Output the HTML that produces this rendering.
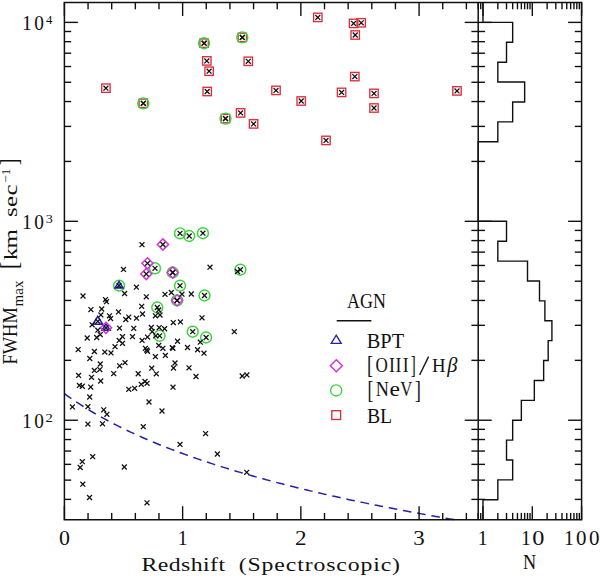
<!DOCTYPE html>
<html><head><meta charset="utf-8"><style>
html,body{margin:0;padding:0;background:#fff;}
svg{display:block;}
</style></head><body>
<svg width="600" height="576" viewBox="0 0 600 576">
<rect width="600" height="576" fill="#fff"/>
<rect x="101.70" y="84.00" width="8.40" height="8.40" stroke="#dc2d3c" stroke-width="1.35" fill="none"/>
<rect x="139.10" y="99.10" width="8.40" height="8.40" stroke="#dc2d3c" stroke-width="1.35" fill="none"/>
<rect x="199.90" y="39.00" width="8.40" height="8.40" stroke="#dc2d3c" stroke-width="1.35" fill="none"/>
<rect x="238.10" y="33.20" width="8.40" height="8.40" stroke="#dc2d3c" stroke-width="1.35" fill="none"/>
<rect x="202.60" y="56.70" width="8.40" height="8.40" stroke="#dc2d3c" stroke-width="1.35" fill="none"/>
<rect x="204.90" y="67.00" width="8.40" height="8.40" stroke="#dc2d3c" stroke-width="1.35" fill="none"/>
<rect x="244.10" y="57.10" width="8.40" height="8.40" stroke="#dc2d3c" stroke-width="1.35" fill="none"/>
<rect x="203.00" y="87.30" width="8.40" height="8.40" stroke="#dc2d3c" stroke-width="1.35" fill="none"/>
<rect x="221.30" y="114.40" width="8.40" height="8.40" stroke="#dc2d3c" stroke-width="1.35" fill="none"/>
<rect x="236.40" y="108.70" width="8.40" height="8.40" stroke="#dc2d3c" stroke-width="1.35" fill="none"/>
<rect x="249.40" y="119.70" width="8.40" height="8.40" stroke="#dc2d3c" stroke-width="1.35" fill="none"/>
<rect x="313.60" y="13.20" width="8.40" height="8.40" stroke="#dc2d3c" stroke-width="1.35" fill="none"/>
<rect x="349.40" y="19.20" width="8.40" height="8.40" stroke="#dc2d3c" stroke-width="1.35" fill="none"/>
<rect x="357.00" y="18.60" width="8.40" height="8.40" stroke="#dc2d3c" stroke-width="1.35" fill="none"/>
<rect x="351.00" y="30.80" width="8.40" height="8.40" stroke="#dc2d3c" stroke-width="1.35" fill="none"/>
<rect x="350.60" y="72.40" width="8.40" height="8.40" stroke="#dc2d3c" stroke-width="1.35" fill="none"/>
<rect x="271.80" y="86.20" width="8.40" height="8.40" stroke="#dc2d3c" stroke-width="1.35" fill="none"/>
<rect x="297.00" y="96.80" width="8.40" height="8.40" stroke="#dc2d3c" stroke-width="1.35" fill="none"/>
<rect x="337.40" y="88.20" width="8.40" height="8.40" stroke="#dc2d3c" stroke-width="1.35" fill="none"/>
<rect x="369.80" y="89.20" width="8.40" height="8.40" stroke="#dc2d3c" stroke-width="1.35" fill="none"/>
<rect x="369.80" y="103.80" width="8.40" height="8.40" stroke="#dc2d3c" stroke-width="1.35" fill="none"/>
<rect x="452.80" y="86.70" width="8.40" height="8.40" stroke="#dc2d3c" stroke-width="1.35" fill="none"/>
<rect x="321.80" y="136.20" width="8.40" height="8.40" stroke="#dc2d3c" stroke-width="1.35" fill="none"/>
<circle cx="143.30" cy="103.30" r="5.45" stroke="#3ad23a" stroke-width="1.45" fill="none"/>
<circle cx="204.10" cy="43.20" r="5.45" stroke="#3ad23a" stroke-width="1.45" fill="none"/>
<circle cx="242.30" cy="37.40" r="5.45" stroke="#3ad23a" stroke-width="1.45" fill="none"/>
<circle cx="225.50" cy="118.60" r="5.45" stroke="#3ad23a" stroke-width="1.45" fill="none"/>
<circle cx="180.00" cy="233.30" r="5.45" stroke="#3ad23a" stroke-width="1.45" fill="none"/>
<circle cx="189.20" cy="236.00" r="5.45" stroke="#3ad23a" stroke-width="1.45" fill="none"/>
<circle cx="202.90" cy="233.20" r="5.45" stroke="#3ad23a" stroke-width="1.45" fill="none"/>
<circle cx="155.00" cy="268.30" r="5.45" stroke="#3ad23a" stroke-width="1.45" fill="none"/>
<circle cx="172.70" cy="272.50" r="5.45" stroke="#3ad23a" stroke-width="1.45" fill="none"/>
<circle cx="180.00" cy="285.70" r="5.45" stroke="#3ad23a" stroke-width="1.45" fill="none"/>
<circle cx="240.40" cy="269.70" r="5.45" stroke="#3ad23a" stroke-width="1.45" fill="none"/>
<circle cx="204.50" cy="295.50" r="5.45" stroke="#3ad23a" stroke-width="1.45" fill="none"/>
<circle cx="119.05" cy="285.60" r="5.45" stroke="#3ad23a" stroke-width="1.45" fill="none"/>
<circle cx="177.10" cy="300.40" r="5.45" stroke="#3ad23a" stroke-width="1.45" fill="none"/>
<circle cx="157.30" cy="307.50" r="5.45" stroke="#3ad23a" stroke-width="1.45" fill="none"/>
<circle cx="159.60" cy="335.80" r="5.45" stroke="#3ad23a" stroke-width="1.45" fill="none"/>
<circle cx="192.70" cy="331.70" r="5.45" stroke="#3ad23a" stroke-width="1.45" fill="none"/>
<circle cx="206.10" cy="337.50" r="5.45" stroke="#3ad23a" stroke-width="1.45" fill="none"/>
<path d="M97.80 316.32L102.70 324.32L92.90 324.32Z" stroke="#2222aa" stroke-width="1.6" fill="none" stroke-linejoin="miter"/>
<path d="M119.05 281.48L123.05 287.88L115.05 287.88Z" stroke="#2222aa" stroke-width="1.6" fill="none" stroke-linejoin="miter"/>
<path d="M106.00 323.88L110.10 330.28L101.90 330.28Z" stroke="#2222aa" stroke-width="1.6" fill="none" stroke-linejoin="miter"/>
<path d="M162.90 238.90L168.50 244.50L162.90 250.10L157.30 244.50Z" stroke="#d236d8" stroke-width="1.5" fill="none"/>
<path d="M147.50 257.70L153.10 263.30L147.50 268.90L141.90 263.30Z" stroke="#d236d8" stroke-width="1.5" fill="none"/>
<path d="M146.25 268.40L151.85 274.00L146.25 279.60L140.65 274.00Z" stroke="#d236d8" stroke-width="1.5" fill="none"/>
<path d="M172.70 266.90L178.30 272.50L172.70 278.10L167.10 272.50Z" stroke="#d236d8" stroke-width="1.5" fill="none"/>
<path d="M177.10 294.80L182.70 300.40L177.10 306.00L171.50 300.40Z" stroke="#d236d8" stroke-width="1.5" fill="none"/>
<path d="M106.00 322.20L111.60 327.80L106.00 333.40L100.40 327.80Z" stroke="#d236d8" stroke-width="1.5" fill="none"/>
<path d="M139.55 242.25L144.45 247.15M139.55 247.15L144.45 242.25" stroke="#111" stroke-width="1.28" fill="none"/>
<path d="M121.05 266.95L125.95 271.85M121.05 271.85L125.95 266.95" stroke="#111" stroke-width="1.28" fill="none"/>
<path d="M133.95 284.75L138.85 289.65M133.95 289.65L138.85 284.75" stroke="#111" stroke-width="1.28" fill="none"/>
<path d="M122.15 291.05L127.05 295.95M122.15 295.95L127.05 291.05" stroke="#111" stroke-width="1.28" fill="none"/>
<path d="M80.55 293.55L85.45 298.45M80.55 298.45L85.45 293.55" stroke="#111" stroke-width="1.28" fill="none"/>
<path d="M103.05 297.15L107.95 302.05M103.05 302.05L107.95 297.15" stroke="#111" stroke-width="1.28" fill="none"/>
<path d="M104.05 299.25L108.95 304.15M104.05 304.15L108.95 299.25" stroke="#111" stroke-width="1.28" fill="none"/>
<path d="M143.85 294.35L148.75 299.25M143.85 299.25L148.75 294.35" stroke="#111" stroke-width="1.28" fill="none"/>
<path d="M162.55 291.85L167.45 296.75M162.55 296.75L167.45 291.85" stroke="#111" stroke-width="1.28" fill="none"/>
<path d="M168.85 290.05L173.75 294.95M168.85 294.95L173.75 290.05" stroke="#111" stroke-width="1.28" fill="none"/>
<path d="M179.55 291.75L184.45 296.65M179.55 296.65L184.45 291.75" stroke="#111" stroke-width="1.28" fill="none"/>
<path d="M188.85 291.55L193.75 296.45M188.85 296.45L193.75 291.55" stroke="#111" stroke-width="1.28" fill="none"/>
<path d="M207.55 264.75L212.45 269.65M207.55 269.65L212.45 264.75" stroke="#111" stroke-width="1.28" fill="none"/>
<path d="M235.05 269.05L239.95 273.95M235.05 273.95L239.95 269.05" stroke="#111" stroke-width="1.28" fill="none"/>
<path d="M88.45 307.15L93.35 312.05M88.45 312.05L93.35 307.15" stroke="#111" stroke-width="1.28" fill="none"/>
<path d="M99.25 306.55L104.15 311.45M99.25 311.45L104.15 306.55" stroke="#111" stroke-width="1.28" fill="none"/>
<path d="M98.45 312.45L103.35 317.35M98.45 317.35L103.35 312.45" stroke="#111" stroke-width="1.28" fill="none"/>
<path d="M107.05 313.35L111.95 318.25M107.05 318.25L111.95 313.35" stroke="#111" stroke-width="1.28" fill="none"/>
<path d="M108.15 316.15L113.05 321.05M108.15 321.05L113.05 316.15" stroke="#111" stroke-width="1.28" fill="none"/>
<path d="M116.05 309.45L120.95 314.35M116.05 314.35L120.95 309.45" stroke="#111" stroke-width="1.28" fill="none"/>
<path d="M139.25 303.85L144.15 308.75M139.25 308.75L144.15 303.85" stroke="#111" stroke-width="1.28" fill="none"/>
<path d="M140.05 311.55L144.95 316.45M140.05 316.45L144.95 311.55" stroke="#111" stroke-width="1.28" fill="none"/>
<path d="M134.05 315.75L138.95 320.65M134.05 320.65L138.95 315.75" stroke="#111" stroke-width="1.28" fill="none"/>
<path d="M126.30 314.65L131.20 319.55M126.30 319.55L131.20 314.65" stroke="#111" stroke-width="1.28" fill="none"/>
<path d="M123.35 317.05L128.25 321.95M123.35 321.95L128.25 317.05" stroke="#111" stroke-width="1.28" fill="none"/>
<path d="M156.30 307.55L161.20 312.45M156.30 312.45L161.20 307.55" stroke="#111" stroke-width="1.28" fill="none"/>
<path d="M152.95 313.35L157.85 318.25M152.95 318.25L157.85 313.35" stroke="#111" stroke-width="1.28" fill="none"/>
<path d="M157.55 312.55L162.45 317.45M157.55 317.45L162.45 312.55" stroke="#111" stroke-width="1.28" fill="none"/>
<path d="M170.85 320.15L175.75 325.05M170.85 325.05L175.75 320.15" stroke="#111" stroke-width="1.28" fill="none"/>
<path d="M177.95 319.45L182.85 324.35M177.95 324.35L182.85 319.45" stroke="#111" stroke-width="1.28" fill="none"/>
<path d="M199.55 315.35L204.45 320.25M199.55 320.25L204.45 315.35" stroke="#111" stroke-width="1.28" fill="none"/>
<path d="M89.65 322.35L94.55 327.25M89.65 327.25L94.55 322.35" stroke="#111" stroke-width="1.28" fill="none"/>
<path d="M95.35 327.75L100.25 332.65M95.35 332.65L100.25 327.75" stroke="#111" stroke-width="1.28" fill="none"/>
<path d="M97.80 332.15L102.70 337.05M97.80 337.05L102.70 332.15" stroke="#111" stroke-width="1.28" fill="none"/>
<path d="M84.75 335.55L89.65 340.45M84.75 340.45L89.65 335.55" stroke="#111" stroke-width="1.28" fill="none"/>
<path d="M94.25 335.05L99.15 339.95M94.25 339.95L99.15 335.05" stroke="#111" stroke-width="1.28" fill="none"/>
<path d="M117.05 325.65L121.95 330.55M117.05 330.55L121.95 325.65" stroke="#111" stroke-width="1.28" fill="none"/>
<path d="M131.30 325.85L136.20 330.75M131.30 330.75L136.20 325.85" stroke="#111" stroke-width="1.28" fill="none"/>
<path d="M148.85 325.05L153.75 329.95M148.85 329.95L153.75 325.05" stroke="#111" stroke-width="1.28" fill="none"/>
<path d="M149.75 329.25L154.65 334.15M149.75 334.15L154.65 329.25" stroke="#111" stroke-width="1.28" fill="none"/>
<path d="M156.75 325.15L161.65 330.05M156.75 330.05L161.65 325.15" stroke="#111" stroke-width="1.28" fill="none"/>
<path d="M162.15 326.30L167.05 331.20M162.15 331.20L167.05 326.30" stroke="#111" stroke-width="1.28" fill="none"/>
<path d="M145.05 334.65L149.95 339.55M145.05 339.55L149.95 334.65" stroke="#111" stroke-width="1.28" fill="none"/>
<path d="M153.35 333.35L158.25 338.25M153.35 338.25L158.25 333.35" stroke="#111" stroke-width="1.28" fill="none"/>
<path d="M120.05 334.25L124.95 339.15M120.05 339.15L124.95 334.25" stroke="#111" stroke-width="1.28" fill="none"/>
<path d="M116.75 337.95L121.65 342.85M116.75 342.85L121.65 337.95" stroke="#111" stroke-width="1.28" fill="none"/>
<path d="M120.05 340.85L124.95 345.75M120.05 345.75L124.95 340.85" stroke="#111" stroke-width="1.28" fill="none"/>
<path d="M130.05 334.25L134.95 339.15M130.05 339.15L134.95 334.25" stroke="#111" stroke-width="1.28" fill="none"/>
<path d="M112.55 344.25L117.45 349.15M112.55 349.15L117.45 344.25" stroke="#111" stroke-width="1.28" fill="none"/>
<path d="M108.55 350.45L113.45 355.35M108.55 355.35L113.45 350.45" stroke="#111" stroke-width="1.28" fill="none"/>
<path d="M139.65 337.95L144.55 342.85M139.65 342.85L144.55 337.95" stroke="#111" stroke-width="1.28" fill="none"/>
<path d="M175.05 338.80L179.95 343.70M175.05 343.70L179.95 338.80" stroke="#111" stroke-width="1.28" fill="none"/>
<path d="M156.30 342.95L161.20 347.85M156.30 347.85L161.20 342.95" stroke="#111" stroke-width="1.28" fill="none"/>
<path d="M160.45 345.85L165.35 350.75M160.45 350.75L165.35 345.85" stroke="#111" stroke-width="1.28" fill="none"/>
<path d="M170.45 345.85L175.35 350.75M170.45 350.75L175.35 345.85" stroke="#111" stroke-width="1.28" fill="none"/>
<path d="M185.05 345.05L189.95 349.95M185.05 349.95L189.95 345.05" stroke="#111" stroke-width="1.28" fill="none"/>
<path d="M144.25 347.55L149.15 352.45M144.25 352.45L149.15 347.55" stroke="#111" stroke-width="1.28" fill="none"/>
<path d="M142.95 345.85L147.85 350.75M142.95 350.75L147.85 345.85" stroke="#111" stroke-width="1.28" fill="none"/>
<path d="M145.05 348.80L149.95 353.70M145.05 353.70L149.95 348.80" stroke="#111" stroke-width="1.28" fill="none"/>
<path d="M152.95 354.25L157.85 359.15M152.95 359.15L157.85 354.25" stroke="#111" stroke-width="1.28" fill="none"/>
<path d="M162.95 352.95L167.85 357.85M162.95 357.85L167.85 352.95" stroke="#111" stroke-width="1.28" fill="none"/>
<path d="M197.85 339.75L202.75 344.65M197.85 344.65L202.75 339.75" stroke="#111" stroke-width="1.28" fill="none"/>
<path d="M195.15 347.30L200.05 352.20M195.15 352.20L200.05 347.30" stroke="#111" stroke-width="1.28" fill="none"/>
<path d="M201.55 350.75L206.45 355.65M201.55 355.65L206.45 350.75" stroke="#111" stroke-width="1.28" fill="none"/>
<path d="M231.85 329.25L236.75 334.15M231.85 334.15L236.75 329.25" stroke="#111" stroke-width="1.28" fill="none"/>
<path d="M75.75 347.15L80.65 352.05M75.75 352.05L80.65 347.15" stroke="#111" stroke-width="1.28" fill="none"/>
<path d="M91.95 349.05L96.85 353.95M91.95 353.95L96.85 349.05" stroke="#111" stroke-width="1.28" fill="none"/>
<path d="M102.35 349.65L107.25 354.55M102.35 354.55L107.25 349.65" stroke="#111" stroke-width="1.28" fill="none"/>
<path d="M87.35 356.05L92.25 360.95M87.35 360.95L92.25 356.05" stroke="#111" stroke-width="1.28" fill="none"/>
<path d="M97.80 361.55L102.70 366.45M97.80 366.45L102.70 361.55" stroke="#111" stroke-width="1.28" fill="none"/>
<path d="M91.95 367.95L96.85 372.85M91.95 372.85L96.85 367.95" stroke="#111" stroke-width="1.28" fill="none"/>
<path d="M97.35 367.15L102.25 372.05M97.35 372.05L102.25 367.15" stroke="#111" stroke-width="1.28" fill="none"/>
<path d="M76.15 372.95L81.05 377.85M76.15 377.85L81.05 372.95" stroke="#111" stroke-width="1.28" fill="none"/>
<path d="M89.05 374.85L93.95 379.75M89.05 379.75L93.95 374.85" stroke="#111" stroke-width="1.28" fill="none"/>
<path d="M98.25 378.55L103.15 383.45M98.25 383.45L103.15 378.55" stroke="#111" stroke-width="1.28" fill="none"/>
<path d="M76.95 382.95L81.85 387.85M76.95 387.85L81.85 382.95" stroke="#111" stroke-width="1.28" fill="none"/>
<path d="M79.85 383.80L84.75 388.70M79.85 388.70L84.75 383.80" stroke="#111" stroke-width="1.28" fill="none"/>
<path d="M88.25 384.65L93.15 389.55M88.25 389.55L93.15 384.65" stroke="#111" stroke-width="1.28" fill="none"/>
<path d="M111.25 371.15L116.15 376.05M111.25 376.05L116.15 371.15" stroke="#111" stroke-width="1.28" fill="none"/>
<path d="M117.15 363.35L122.05 368.25M117.15 368.25L122.05 363.35" stroke="#111" stroke-width="1.28" fill="none"/>
<path d="M122.55 360.25L127.45 365.15M122.55 365.15L127.45 360.25" stroke="#111" stroke-width="1.28" fill="none"/>
<path d="M135.75 371.30L140.65 376.20M135.75 376.20L140.65 371.30" stroke="#111" stroke-width="1.28" fill="none"/>
<path d="M149.25 365.75L154.15 370.65M149.25 370.65L154.15 365.75" stroke="#111" stroke-width="1.28" fill="none"/>
<path d="M153.85 371.35L158.75 376.25M153.85 376.25L158.75 371.35" stroke="#111" stroke-width="1.28" fill="none"/>
<path d="M142.55 379.05L147.45 383.95M142.55 383.95L147.45 379.05" stroke="#111" stroke-width="1.28" fill="none"/>
<path d="M144.65 380.85L149.55 385.75M144.65 385.75L149.55 380.85" stroke="#111" stroke-width="1.28" fill="none"/>
<path d="M138.80 381.85L143.70 386.75M138.80 386.75L143.70 381.85" stroke="#111" stroke-width="1.28" fill="none"/>
<path d="M126.30 386.85L131.20 391.75M126.30 391.75L131.20 386.85" stroke="#111" stroke-width="1.28" fill="none"/>
<path d="M132.15 385.85L137.05 390.75M132.15 390.75L137.05 385.85" stroke="#111" stroke-width="1.28" fill="none"/>
<path d="M169.85 345.15L174.75 350.05M169.85 350.05L174.75 345.15" stroke="#111" stroke-width="1.28" fill="none"/>
<path d="M172.55 360.55L177.45 365.45M172.55 365.45L177.45 360.55" stroke="#111" stroke-width="1.28" fill="none"/>
<path d="M171.05 365.55L175.95 370.45M171.05 370.45L175.95 365.55" stroke="#111" stroke-width="1.28" fill="none"/>
<path d="M186.55 365.35L191.45 370.25M186.55 370.25L191.45 365.35" stroke="#111" stroke-width="1.28" fill="none"/>
<path d="M193.55 374.05L198.45 378.95M193.55 378.95L198.45 374.05" stroke="#111" stroke-width="1.28" fill="none"/>
<path d="M170.55 384.75L175.45 389.65M170.55 389.65L175.45 384.75" stroke="#111" stroke-width="1.28" fill="none"/>
<path d="M239.75 373.55L244.65 378.45M239.75 378.45L244.65 373.55" stroke="#111" stroke-width="1.28" fill="none"/>
<path d="M244.45 372.45L249.35 377.35M244.45 377.35L249.35 372.45" stroke="#111" stroke-width="1.28" fill="none"/>
<path d="M87.25 394.55L92.15 399.45M87.25 399.45L92.15 394.55" stroke="#111" stroke-width="1.28" fill="none"/>
<path d="M69.95 404.45L74.85 409.35M69.95 409.35L74.85 404.45" stroke="#111" stroke-width="1.28" fill="none"/>
<path d="M85.45 404.25L90.35 409.15M85.45 409.15L90.35 404.25" stroke="#111" stroke-width="1.28" fill="none"/>
<path d="M101.25 407.35L106.15 412.25M101.25 412.25L106.15 407.35" stroke="#111" stroke-width="1.28" fill="none"/>
<path d="M104.45 411.85L109.35 416.75M104.45 416.75L109.35 411.85" stroke="#111" stroke-width="1.28" fill="none"/>
<path d="M85.45 421.65L90.35 426.55M85.45 426.55L90.35 421.65" stroke="#111" stroke-width="1.28" fill="none"/>
<path d="M100.05 421.35L104.95 426.25M100.05 426.25L104.95 421.35" stroke="#111" stroke-width="1.28" fill="none"/>
<path d="M146.55 399.55L151.45 404.45M146.55 404.45L151.45 399.55" stroke="#111" stroke-width="1.28" fill="none"/>
<path d="M159.55 408.55L164.45 413.45M159.55 413.45L164.45 408.55" stroke="#111" stroke-width="1.28" fill="none"/>
<path d="M140.85 424.25L145.75 429.15M140.85 429.15L145.75 424.25" stroke="#111" stroke-width="1.28" fill="none"/>
<path d="M203.15 431.15L208.05 436.05M203.15 436.05L208.05 431.15" stroke="#111" stroke-width="1.28" fill="none"/>
<path d="M177.55 441.95L182.45 446.85M177.55 446.85L182.45 441.95" stroke="#111" stroke-width="1.28" fill="none"/>
<path d="M214.95 451.55L219.85 456.45M214.95 456.45L219.85 451.55" stroke="#111" stroke-width="1.28" fill="none"/>
<path d="M79.85 459.25L84.75 464.15M79.85 464.15L84.75 459.25" stroke="#111" stroke-width="1.28" fill="none"/>
<path d="M77.75 465.05L82.65 469.95M77.75 469.95L82.65 465.05" stroke="#111" stroke-width="1.28" fill="none"/>
<path d="M90.25 454.25L95.15 459.15M90.25 459.15L95.15 454.25" stroke="#111" stroke-width="1.28" fill="none"/>
<path d="M121.85 464.55L126.75 469.45M121.85 469.45L126.75 464.55" stroke="#111" stroke-width="1.28" fill="none"/>
<path d="M80.35 481.75L85.25 486.65M80.35 486.65L85.25 481.75" stroke="#111" stroke-width="1.28" fill="none"/>
<path d="M87.05 495.05L91.95 499.95M87.05 499.95L91.95 495.05" stroke="#111" stroke-width="1.28" fill="none"/>
<path d="M144.55 500.35L149.45 505.25M144.55 505.25L149.45 500.35" stroke="#111" stroke-width="1.28" fill="none"/>
<path d="M244.25 469.85L249.15 474.75M244.25 474.75L249.15 469.85" stroke="#111" stroke-width="1.28" fill="none"/>
<path d="M140.85 100.85L145.75 105.75M140.85 105.75L145.75 100.85" stroke="#111" stroke-width="1.28" fill="none"/>
<path d="M201.65 40.75L206.55 45.65M201.65 45.65L206.55 40.75" stroke="#111" stroke-width="1.28" fill="none"/>
<path d="M239.85 34.95L244.75 39.85M239.85 39.85L244.75 34.95" stroke="#111" stroke-width="1.28" fill="none"/>
<path d="M223.05 116.15L227.95 121.05M223.05 121.05L227.95 116.15" stroke="#111" stroke-width="1.28" fill="none"/>
<path d="M177.55 230.85L182.45 235.75M177.55 235.75L182.45 230.85" stroke="#111" stroke-width="1.28" fill="none"/>
<path d="M186.75 233.55L191.65 238.45M186.75 238.45L191.65 233.55" stroke="#111" stroke-width="1.28" fill="none"/>
<path d="M200.45 230.75L205.35 235.65M200.45 235.65L205.35 230.75" stroke="#111" stroke-width="1.28" fill="none"/>
<path d="M152.55 265.85L157.45 270.75M152.55 270.75L157.45 265.85" stroke="#111" stroke-width="1.28" fill="none"/>
<path d="M170.25 270.05L175.15 274.95M170.25 274.95L175.15 270.05" stroke="#111" stroke-width="1.28" fill="none"/>
<path d="M177.55 283.25L182.45 288.15M177.55 288.15L182.45 283.25" stroke="#111" stroke-width="1.28" fill="none"/>
<path d="M237.95 267.25L242.85 272.15M237.95 272.15L242.85 267.25" stroke="#111" stroke-width="1.28" fill="none"/>
<path d="M202.05 293.05L206.95 297.95M202.05 297.95L206.95 293.05" stroke="#111" stroke-width="1.28" fill="none"/>
<path d="M116.60 283.15L121.50 288.05M116.60 288.05L121.50 283.15" stroke="#111" stroke-width="1.28" fill="none"/>
<path d="M174.65 297.95L179.55 302.85M174.65 302.85L179.55 297.95" stroke="#111" stroke-width="1.28" fill="none"/>
<path d="M154.85 305.05L159.75 309.95M154.85 309.95L159.75 305.05" stroke="#111" stroke-width="1.28" fill="none"/>
<path d="M157.15 333.35L162.05 338.25M157.15 338.25L162.05 333.35" stroke="#111" stroke-width="1.28" fill="none"/>
<path d="M190.25 329.25L195.15 334.15M190.25 334.15L195.15 329.25" stroke="#111" stroke-width="1.28" fill="none"/>
<path d="M203.65 335.05L208.55 339.95M203.65 339.95L208.55 335.05" stroke="#111" stroke-width="1.28" fill="none"/>
<path d="M160.45 242.05L165.35 246.95M160.45 246.95L165.35 242.05" stroke="#111" stroke-width="1.28" fill="none"/>
<path d="M145.05 260.85L149.95 265.75M145.05 265.75L149.95 260.85" stroke="#111" stroke-width="1.28" fill="none"/>
<path d="M143.80 271.55L148.70 276.45M143.80 276.45L148.70 271.55" stroke="#111" stroke-width="1.28" fill="none"/>
<path d="M170.25 270.05L175.15 274.95M170.25 274.95L175.15 270.05" stroke="#111" stroke-width="1.28" fill="none"/>
<path d="M174.65 297.95L179.55 302.85M174.65 302.85L179.55 297.95" stroke="#111" stroke-width="1.28" fill="none"/>
<path d="M103.55 325.35L108.45 330.25M103.55 330.25L108.45 325.35" stroke="#111" stroke-width="1.28" fill="none"/>
<path d="M95.35 318.85L100.25 323.75M95.35 323.75L100.25 318.85" stroke="#111" stroke-width="1.28" fill="none"/>
<path d="M103.45 85.75L108.35 90.65M103.45 90.65L108.35 85.75" stroke="#111" stroke-width="1.28" fill="none"/>
<path d="M140.85 100.85L145.75 105.75M140.85 105.75L145.75 100.85" stroke="#111" stroke-width="1.28" fill="none"/>
<path d="M201.65 40.75L206.55 45.65M201.65 45.65L206.55 40.75" stroke="#111" stroke-width="1.28" fill="none"/>
<path d="M239.85 34.95L244.75 39.85M239.85 39.85L244.75 34.95" stroke="#111" stroke-width="1.28" fill="none"/>
<path d="M204.35 58.45L209.25 63.35M204.35 63.35L209.25 58.45" stroke="#111" stroke-width="1.28" fill="none"/>
<path d="M206.65 68.75L211.55 73.65M206.65 73.65L211.55 68.75" stroke="#111" stroke-width="1.28" fill="none"/>
<path d="M245.85 58.85L250.75 63.75M245.85 63.75L250.75 58.85" stroke="#111" stroke-width="1.28" fill="none"/>
<path d="M204.75 89.05L209.65 93.95M204.75 93.95L209.65 89.05" stroke="#111" stroke-width="1.28" fill="none"/>
<path d="M223.05 116.15L227.95 121.05M223.05 121.05L227.95 116.15" stroke="#111" stroke-width="1.28" fill="none"/>
<path d="M238.15 110.45L243.05 115.35M238.15 115.35L243.05 110.45" stroke="#111" stroke-width="1.28" fill="none"/>
<path d="M251.15 121.45L256.05 126.35M251.15 126.35L256.05 121.45" stroke="#111" stroke-width="1.28" fill="none"/>
<path d="M315.35 14.95L320.25 19.85M315.35 19.85L320.25 14.95" stroke="#111" stroke-width="1.28" fill="none"/>
<path d="M351.15 20.95L356.05 25.85M351.15 25.85L356.05 20.95" stroke="#111" stroke-width="1.28" fill="none"/>
<path d="M358.75 20.35L363.65 25.25M358.75 25.25L363.65 20.35" stroke="#111" stroke-width="1.28" fill="none"/>
<path d="M352.75 32.55L357.65 37.45M352.75 37.45L357.65 32.55" stroke="#111" stroke-width="1.28" fill="none"/>
<path d="M352.35 74.15L357.25 79.05M352.35 79.05L357.25 74.15" stroke="#111" stroke-width="1.28" fill="none"/>
<path d="M273.55 87.95L278.45 92.85M273.55 92.85L278.45 87.95" stroke="#111" stroke-width="1.28" fill="none"/>
<path d="M298.75 98.55L303.65 103.45M298.75 103.45L303.65 98.55" stroke="#111" stroke-width="1.28" fill="none"/>
<path d="M339.15 89.95L344.05 94.85M339.15 94.85L344.05 89.95" stroke="#111" stroke-width="1.28" fill="none"/>
<path d="M371.55 90.95L376.45 95.85M371.55 95.85L376.45 90.95" stroke="#111" stroke-width="1.28" fill="none"/>
<path d="M371.55 105.55L376.45 110.45M371.55 110.45L376.45 105.55" stroke="#111" stroke-width="1.28" fill="none"/>
<path d="M454.55 88.45L459.45 93.35M454.55 93.35L459.45 88.45" stroke="#111" stroke-width="1.28" fill="none"/>
<path d="M323.55 137.95L328.45 142.85M323.55 142.85L328.45 137.95" stroke="#111" stroke-width="1.28" fill="none"/>
<path d="M64.40 393.67 L66.76 395.39 L69.13 397.06 L71.49 398.71 L73.86 400.32 L76.22 401.91 L78.59 403.47 L80.95 404.99 L83.32 406.50 L85.68 407.97 L88.05 409.43 L90.41 410.85 L92.77 412.26 L95.14 413.64 L97.50 415.00 L99.87 416.34 L102.23 417.66 L104.60 418.96 L106.96 420.24 L109.33 421.50 L111.69 422.74 L114.06 423.97 L116.42 425.18 L118.79 426.37 L121.15 427.54 L123.51 428.70 L125.88 429.85 L128.24 430.98 L130.61 432.09 L132.97 433.19 L135.34 434.28 L137.70 435.35 L140.07 436.41 L142.43 437.46 L144.80 438.49 L147.16 439.52 L149.52 440.53 L151.89 441.53 L154.25 442.51 L156.62 443.49 L158.98 444.45 L161.35 445.41 L163.71 446.35 L166.08 447.29 L168.44 448.21 L170.81 449.13 L173.17 450.03 L175.53 450.92 L177.90 451.81 L180.26 452.69 L182.63 453.56 L184.99 454.42 L187.36 455.27 L189.72 456.11 L192.09 456.94 L194.45 457.77 L196.82 458.59 L199.18 459.40 L201.55 460.21 L203.91 461.00 L206.27 461.79 L208.64 462.57 L211.00 463.35 L213.37 464.11 L215.73 464.88 L218.10 465.63 L220.46 466.38 L222.83 467.12 L225.19 467.86 L227.56 468.58 L229.92 469.31 L232.28 470.02 L234.65 470.74 L237.01 471.44 L239.38 472.14 L241.74 472.83 L244.11 473.52 L246.47 474.21 L248.84 474.88 L251.20 475.56 L253.57 476.22 L255.93 476.88 L258.29 477.54 L260.66 478.19 L263.02 478.84 L265.39 479.48 L267.75 480.12 L270.12 480.75 L272.48 481.38 L274.85 482.01 L277.21 482.62 L279.58 483.24 L281.94 483.85 L284.31 484.46 L286.67 485.06 L289.03 485.66 L291.40 486.25 L293.76 486.84 L296.13 487.43 L298.49 488.01 L300.86 488.58 L303.22 489.16 L305.59 489.73 L307.95 490.30 L310.32 490.86 L312.68 491.42 L315.04 491.97 L317.41 492.53 L319.77 493.07 L322.14 493.62 L324.50 494.16 L326.87 494.70 L329.23 495.23 L331.60 495.77 L333.96 496.29 L336.33 496.82 L338.69 497.34 L341.05 497.86 L343.42 498.38 L345.78 498.89 L348.15 499.40 L350.51 499.90 L352.88 500.41 L355.24 500.91 L357.61 501.41 L359.97 501.90 L362.34 502.39 L364.70 502.88 L367.07 503.37 L369.43 503.85 L371.79 504.34 L374.16 504.81 L376.52 505.29 L378.89 505.76 L381.25 506.23 L383.62 506.70 L385.98 507.17 L388.35 507.63 L390.71 508.09 L393.08 508.55 L395.44 509.01 L397.80 509.46 L400.17 509.91 L402.53 510.36 L404.90 510.81 L407.26 511.25 L409.63 511.69 L411.99 512.13 L414.36 512.57 L416.72 513.01 L419.09 513.44 L421.45 513.87 L423.81 514.30 L426.18 514.72 L428.54 515.15 L430.91 515.57 L433.27 515.99 L435.64 516.41 L438.00 516.83 L440.37 517.24 L442.73 517.65 L445.10 518.06 L447.46 518.47 L449.83 518.88 L452.19 519.28 L454.55 519.69" stroke="#2222aa" stroke-width="1.5" fill="none" stroke-dasharray="8.6 5.83"/>
<path d="M64.4 2.5H581.6V519.7H64.4Z" stroke="#111" stroke-width="1.5" fill="none"/>
<line x1="478.20" y1="2.50" x2="478.20" y2="519.70" stroke="#111" stroke-width="1.5" />
<line x1="64.40" y1="519.70" x2="64.40" y2="506.20" stroke="#111" stroke-width="1.4" />
<line x1="64.40" y1="2.50" x2="64.40" y2="16.00" stroke="#111" stroke-width="1.4" />
<line x1="88.05" y1="519.70" x2="88.05" y2="512.90" stroke="#111" stroke-width="1.4" />
<line x1="88.05" y1="2.50" x2="88.05" y2="9.30" stroke="#111" stroke-width="1.4" />
<line x1="111.69" y1="519.70" x2="111.69" y2="512.90" stroke="#111" stroke-width="1.4" />
<line x1="111.69" y1="2.50" x2="111.69" y2="9.30" stroke="#111" stroke-width="1.4" />
<line x1="135.34" y1="519.70" x2="135.34" y2="512.90" stroke="#111" stroke-width="1.4" />
<line x1="135.34" y1="2.50" x2="135.34" y2="9.30" stroke="#111" stroke-width="1.4" />
<line x1="158.98" y1="519.70" x2="158.98" y2="512.90" stroke="#111" stroke-width="1.4" />
<line x1="158.98" y1="2.50" x2="158.98" y2="9.30" stroke="#111" stroke-width="1.4" />
<line x1="182.63" y1="519.70" x2="182.63" y2="506.20" stroke="#111" stroke-width="1.4" />
<line x1="182.63" y1="2.50" x2="182.63" y2="16.00" stroke="#111" stroke-width="1.4" />
<line x1="206.27" y1="519.70" x2="206.27" y2="512.90" stroke="#111" stroke-width="1.4" />
<line x1="206.27" y1="2.50" x2="206.27" y2="9.30" stroke="#111" stroke-width="1.4" />
<line x1="229.92" y1="519.70" x2="229.92" y2="512.90" stroke="#111" stroke-width="1.4" />
<line x1="229.92" y1="2.50" x2="229.92" y2="9.30" stroke="#111" stroke-width="1.4" />
<line x1="253.57" y1="519.70" x2="253.57" y2="512.90" stroke="#111" stroke-width="1.4" />
<line x1="253.57" y1="2.50" x2="253.57" y2="9.30" stroke="#111" stroke-width="1.4" />
<line x1="277.21" y1="519.70" x2="277.21" y2="512.90" stroke="#111" stroke-width="1.4" />
<line x1="277.21" y1="2.50" x2="277.21" y2="9.30" stroke="#111" stroke-width="1.4" />
<line x1="300.86" y1="519.70" x2="300.86" y2="506.20" stroke="#111" stroke-width="1.4" />
<line x1="300.86" y1="2.50" x2="300.86" y2="16.00" stroke="#111" stroke-width="1.4" />
<line x1="324.50" y1="519.70" x2="324.50" y2="512.90" stroke="#111" stroke-width="1.4" />
<line x1="324.50" y1="2.50" x2="324.50" y2="9.30" stroke="#111" stroke-width="1.4" />
<line x1="348.15" y1="519.70" x2="348.15" y2="512.90" stroke="#111" stroke-width="1.4" />
<line x1="348.15" y1="2.50" x2="348.15" y2="9.30" stroke="#111" stroke-width="1.4" />
<line x1="371.79" y1="519.70" x2="371.79" y2="512.90" stroke="#111" stroke-width="1.4" />
<line x1="371.79" y1="2.50" x2="371.79" y2="9.30" stroke="#111" stroke-width="1.4" />
<line x1="395.44" y1="519.70" x2="395.44" y2="512.90" stroke="#111" stroke-width="1.4" />
<line x1="395.44" y1="2.50" x2="395.44" y2="9.30" stroke="#111" stroke-width="1.4" />
<line x1="419.09" y1="519.70" x2="419.09" y2="506.20" stroke="#111" stroke-width="1.4" />
<line x1="419.09" y1="2.50" x2="419.09" y2="16.00" stroke="#111" stroke-width="1.4" />
<line x1="442.73" y1="519.70" x2="442.73" y2="512.90" stroke="#111" stroke-width="1.4" />
<line x1="442.73" y1="2.50" x2="442.73" y2="9.30" stroke="#111" stroke-width="1.4" />
<line x1="466.38" y1="519.70" x2="466.38" y2="512.90" stroke="#111" stroke-width="1.4" />
<line x1="466.38" y1="2.50" x2="466.38" y2="9.30" stroke="#111" stroke-width="1.4" />
<line x1="64.40" y1="499.40" x2="71.20" y2="499.40" stroke="#111" stroke-width="1.4" />
<line x1="471.40" y1="499.40" x2="478.20" y2="499.40" stroke="#111" stroke-width="1.4" />
<line x1="478.20" y1="499.40" x2="485.00" y2="499.40" stroke="#111" stroke-width="1.4" />
<line x1="574.80" y1="499.40" x2="581.60" y2="499.40" stroke="#111" stroke-width="1.4" />
<line x1="64.40" y1="480.12" x2="71.20" y2="480.12" stroke="#111" stroke-width="1.4" />
<line x1="471.40" y1="480.12" x2="478.20" y2="480.12" stroke="#111" stroke-width="1.4" />
<line x1="478.20" y1="480.12" x2="485.00" y2="480.12" stroke="#111" stroke-width="1.4" />
<line x1="574.80" y1="480.12" x2="581.60" y2="480.12" stroke="#111" stroke-width="1.4" />
<line x1="64.40" y1="464.37" x2="71.20" y2="464.37" stroke="#111" stroke-width="1.4" />
<line x1="471.40" y1="464.37" x2="478.20" y2="464.37" stroke="#111" stroke-width="1.4" />
<line x1="478.20" y1="464.37" x2="485.00" y2="464.37" stroke="#111" stroke-width="1.4" />
<line x1="574.80" y1="464.37" x2="581.60" y2="464.37" stroke="#111" stroke-width="1.4" />
<line x1="64.40" y1="451.05" x2="71.20" y2="451.05" stroke="#111" stroke-width="1.4" />
<line x1="471.40" y1="451.05" x2="478.20" y2="451.05" stroke="#111" stroke-width="1.4" />
<line x1="478.20" y1="451.05" x2="485.00" y2="451.05" stroke="#111" stroke-width="1.4" />
<line x1="574.80" y1="451.05" x2="581.60" y2="451.05" stroke="#111" stroke-width="1.4" />
<line x1="64.40" y1="439.52" x2="71.20" y2="439.52" stroke="#111" stroke-width="1.4" />
<line x1="471.40" y1="439.52" x2="478.20" y2="439.52" stroke="#111" stroke-width="1.4" />
<line x1="478.20" y1="439.52" x2="485.00" y2="439.52" stroke="#111" stroke-width="1.4" />
<line x1="574.80" y1="439.52" x2="581.60" y2="439.52" stroke="#111" stroke-width="1.4" />
<line x1="64.40" y1="429.34" x2="71.20" y2="429.34" stroke="#111" stroke-width="1.4" />
<line x1="471.40" y1="429.34" x2="478.20" y2="429.34" stroke="#111" stroke-width="1.4" />
<line x1="478.20" y1="429.34" x2="485.00" y2="429.34" stroke="#111" stroke-width="1.4" />
<line x1="574.80" y1="429.34" x2="581.60" y2="429.34" stroke="#111" stroke-width="1.4" />
<line x1="64.40" y1="420.24" x2="77.90" y2="420.24" stroke="#111" stroke-width="1.4" />
<line x1="464.70" y1="420.24" x2="478.20" y2="420.24" stroke="#111" stroke-width="1.4" />
<line x1="478.20" y1="420.24" x2="491.70" y2="420.24" stroke="#111" stroke-width="1.4" />
<line x1="568.10" y1="420.24" x2="581.60" y2="420.24" stroke="#111" stroke-width="1.4" />
<line x1="64.40" y1="360.36" x2="71.20" y2="360.36" stroke="#111" stroke-width="1.4" />
<line x1="471.40" y1="360.36" x2="478.20" y2="360.36" stroke="#111" stroke-width="1.4" />
<line x1="478.20" y1="360.36" x2="485.00" y2="360.36" stroke="#111" stroke-width="1.4" />
<line x1="574.80" y1="360.36" x2="581.60" y2="360.36" stroke="#111" stroke-width="1.4" />
<line x1="64.40" y1="325.33" x2="71.20" y2="325.33" stroke="#111" stroke-width="1.4" />
<line x1="471.40" y1="325.33" x2="478.20" y2="325.33" stroke="#111" stroke-width="1.4" />
<line x1="478.20" y1="325.33" x2="485.00" y2="325.33" stroke="#111" stroke-width="1.4" />
<line x1="574.80" y1="325.33" x2="581.60" y2="325.33" stroke="#111" stroke-width="1.4" />
<line x1="64.40" y1="300.47" x2="71.20" y2="300.47" stroke="#111" stroke-width="1.4" />
<line x1="471.40" y1="300.47" x2="478.20" y2="300.47" stroke="#111" stroke-width="1.4" />
<line x1="478.20" y1="300.47" x2="485.00" y2="300.47" stroke="#111" stroke-width="1.4" />
<line x1="574.80" y1="300.47" x2="581.60" y2="300.47" stroke="#111" stroke-width="1.4" />
<line x1="64.40" y1="281.20" x2="71.20" y2="281.20" stroke="#111" stroke-width="1.4" />
<line x1="471.40" y1="281.20" x2="478.20" y2="281.20" stroke="#111" stroke-width="1.4" />
<line x1="478.20" y1="281.20" x2="485.00" y2="281.20" stroke="#111" stroke-width="1.4" />
<line x1="574.80" y1="281.20" x2="581.60" y2="281.20" stroke="#111" stroke-width="1.4" />
<line x1="64.40" y1="265.45" x2="71.20" y2="265.45" stroke="#111" stroke-width="1.4" />
<line x1="471.40" y1="265.45" x2="478.20" y2="265.45" stroke="#111" stroke-width="1.4" />
<line x1="478.20" y1="265.45" x2="485.00" y2="265.45" stroke="#111" stroke-width="1.4" />
<line x1="574.80" y1="265.45" x2="581.60" y2="265.45" stroke="#111" stroke-width="1.4" />
<line x1="64.40" y1="252.13" x2="71.20" y2="252.13" stroke="#111" stroke-width="1.4" />
<line x1="471.40" y1="252.13" x2="478.20" y2="252.13" stroke="#111" stroke-width="1.4" />
<line x1="478.20" y1="252.13" x2="485.00" y2="252.13" stroke="#111" stroke-width="1.4" />
<line x1="574.80" y1="252.13" x2="581.60" y2="252.13" stroke="#111" stroke-width="1.4" />
<line x1="64.40" y1="240.59" x2="71.20" y2="240.59" stroke="#111" stroke-width="1.4" />
<line x1="471.40" y1="240.59" x2="478.20" y2="240.59" stroke="#111" stroke-width="1.4" />
<line x1="478.20" y1="240.59" x2="485.00" y2="240.59" stroke="#111" stroke-width="1.4" />
<line x1="574.80" y1="240.59" x2="581.60" y2="240.59" stroke="#111" stroke-width="1.4" />
<line x1="64.40" y1="230.42" x2="71.20" y2="230.42" stroke="#111" stroke-width="1.4" />
<line x1="471.40" y1="230.42" x2="478.20" y2="230.42" stroke="#111" stroke-width="1.4" />
<line x1="478.20" y1="230.42" x2="485.00" y2="230.42" stroke="#111" stroke-width="1.4" />
<line x1="574.80" y1="230.42" x2="581.60" y2="230.42" stroke="#111" stroke-width="1.4" />
<line x1="64.40" y1="221.32" x2="77.90" y2="221.32" stroke="#111" stroke-width="1.4" />
<line x1="464.70" y1="221.32" x2="478.20" y2="221.32" stroke="#111" stroke-width="1.4" />
<line x1="478.20" y1="221.32" x2="491.70" y2="221.32" stroke="#111" stroke-width="1.4" />
<line x1="568.10" y1="221.32" x2="581.60" y2="221.32" stroke="#111" stroke-width="1.4" />
<line x1="64.40" y1="161.43" x2="71.20" y2="161.43" stroke="#111" stroke-width="1.4" />
<line x1="471.40" y1="161.43" x2="478.20" y2="161.43" stroke="#111" stroke-width="1.4" />
<line x1="478.20" y1="161.43" x2="485.00" y2="161.43" stroke="#111" stroke-width="1.4" />
<line x1="574.80" y1="161.43" x2="581.60" y2="161.43" stroke="#111" stroke-width="1.4" />
<line x1="64.40" y1="126.40" x2="71.20" y2="126.40" stroke="#111" stroke-width="1.4" />
<line x1="471.40" y1="126.40" x2="478.20" y2="126.40" stroke="#111" stroke-width="1.4" />
<line x1="478.20" y1="126.40" x2="485.00" y2="126.40" stroke="#111" stroke-width="1.4" />
<line x1="574.80" y1="126.40" x2="581.60" y2="126.40" stroke="#111" stroke-width="1.4" />
<line x1="64.40" y1="101.55" x2="71.20" y2="101.55" stroke="#111" stroke-width="1.4" />
<line x1="471.40" y1="101.55" x2="478.20" y2="101.55" stroke="#111" stroke-width="1.4" />
<line x1="478.20" y1="101.55" x2="485.00" y2="101.55" stroke="#111" stroke-width="1.4" />
<line x1="574.80" y1="101.55" x2="581.60" y2="101.55" stroke="#111" stroke-width="1.4" />
<line x1="64.40" y1="82.27" x2="71.20" y2="82.27" stroke="#111" stroke-width="1.4" />
<line x1="471.40" y1="82.27" x2="478.20" y2="82.27" stroke="#111" stroke-width="1.4" />
<line x1="478.20" y1="82.27" x2="485.00" y2="82.27" stroke="#111" stroke-width="1.4" />
<line x1="574.80" y1="82.27" x2="581.60" y2="82.27" stroke="#111" stroke-width="1.4" />
<line x1="64.40" y1="66.52" x2="71.20" y2="66.52" stroke="#111" stroke-width="1.4" />
<line x1="471.40" y1="66.52" x2="478.20" y2="66.52" stroke="#111" stroke-width="1.4" />
<line x1="478.20" y1="66.52" x2="485.00" y2="66.52" stroke="#111" stroke-width="1.4" />
<line x1="574.80" y1="66.52" x2="581.60" y2="66.52" stroke="#111" stroke-width="1.4" />
<line x1="64.40" y1="53.21" x2="71.20" y2="53.21" stroke="#111" stroke-width="1.4" />
<line x1="471.40" y1="53.21" x2="478.20" y2="53.21" stroke="#111" stroke-width="1.4" />
<line x1="478.20" y1="53.21" x2="485.00" y2="53.21" stroke="#111" stroke-width="1.4" />
<line x1="574.80" y1="53.21" x2="581.60" y2="53.21" stroke="#111" stroke-width="1.4" />
<line x1="64.40" y1="41.67" x2="71.20" y2="41.67" stroke="#111" stroke-width="1.4" />
<line x1="471.40" y1="41.67" x2="478.20" y2="41.67" stroke="#111" stroke-width="1.4" />
<line x1="478.20" y1="41.67" x2="485.00" y2="41.67" stroke="#111" stroke-width="1.4" />
<line x1="574.80" y1="41.67" x2="581.60" y2="41.67" stroke="#111" stroke-width="1.4" />
<line x1="64.40" y1="31.49" x2="71.20" y2="31.49" stroke="#111" stroke-width="1.4" />
<line x1="471.40" y1="31.49" x2="478.20" y2="31.49" stroke="#111" stroke-width="1.4" />
<line x1="478.20" y1="31.49" x2="485.00" y2="31.49" stroke="#111" stroke-width="1.4" />
<line x1="574.80" y1="31.49" x2="581.60" y2="31.49" stroke="#111" stroke-width="1.4" />
<line x1="64.40" y1="22.39" x2="77.90" y2="22.39" stroke="#111" stroke-width="1.4" />
<line x1="464.70" y1="22.39" x2="478.20" y2="22.39" stroke="#111" stroke-width="1.4" />
<line x1="478.20" y1="22.39" x2="491.70" y2="22.39" stroke="#111" stroke-width="1.4" />
<line x1="568.10" y1="22.39" x2="581.60" y2="22.39" stroke="#111" stroke-width="1.4" />
<line x1="478.20" y1="519.70" x2="478.20" y2="512.90" stroke="#111" stroke-width="1.4" />
<line x1="478.20" y1="2.50" x2="478.20" y2="9.30" stroke="#111" stroke-width="1.4" />
<line x1="480.72" y1="519.70" x2="480.72" y2="512.90" stroke="#111" stroke-width="1.4" />
<line x1="480.72" y1="2.50" x2="480.72" y2="9.30" stroke="#111" stroke-width="1.4" />
<line x1="482.98" y1="519.70" x2="482.98" y2="506.20" stroke="#111" stroke-width="1.4" />
<line x1="482.98" y1="2.50" x2="482.98" y2="16.00" stroke="#111" stroke-width="1.4" />
<line x1="497.82" y1="519.70" x2="497.82" y2="512.90" stroke="#111" stroke-width="1.4" />
<line x1="497.82" y1="2.50" x2="497.82" y2="9.30" stroke="#111" stroke-width="1.4" />
<line x1="506.51" y1="519.70" x2="506.51" y2="512.90" stroke="#111" stroke-width="1.4" />
<line x1="506.51" y1="2.50" x2="506.51" y2="9.30" stroke="#111" stroke-width="1.4" />
<line x1="512.67" y1="519.70" x2="512.67" y2="512.90" stroke="#111" stroke-width="1.4" />
<line x1="512.67" y1="2.50" x2="512.67" y2="9.30" stroke="#111" stroke-width="1.4" />
<line x1="517.45" y1="519.70" x2="517.45" y2="512.90" stroke="#111" stroke-width="1.4" />
<line x1="517.45" y1="2.50" x2="517.45" y2="9.30" stroke="#111" stroke-width="1.4" />
<line x1="521.35" y1="519.70" x2="521.35" y2="512.90" stroke="#111" stroke-width="1.4" />
<line x1="521.35" y1="2.50" x2="521.35" y2="9.30" stroke="#111" stroke-width="1.4" />
<line x1="524.65" y1="519.70" x2="524.65" y2="512.90" stroke="#111" stroke-width="1.4" />
<line x1="524.65" y1="2.50" x2="524.65" y2="9.30" stroke="#111" stroke-width="1.4" />
<line x1="527.51" y1="519.70" x2="527.51" y2="512.90" stroke="#111" stroke-width="1.4" />
<line x1="527.51" y1="2.50" x2="527.51" y2="9.30" stroke="#111" stroke-width="1.4" />
<line x1="530.03" y1="519.70" x2="530.03" y2="512.90" stroke="#111" stroke-width="1.4" />
<line x1="530.03" y1="2.50" x2="530.03" y2="9.30" stroke="#111" stroke-width="1.4" />
<line x1="532.29" y1="519.70" x2="532.29" y2="506.20" stroke="#111" stroke-width="1.4" />
<line x1="532.29" y1="2.50" x2="532.29" y2="16.00" stroke="#111" stroke-width="1.4" />
<line x1="547.13" y1="519.70" x2="547.13" y2="512.90" stroke="#111" stroke-width="1.4" />
<line x1="547.13" y1="2.50" x2="547.13" y2="9.30" stroke="#111" stroke-width="1.4" />
<line x1="555.82" y1="519.70" x2="555.82" y2="512.90" stroke="#111" stroke-width="1.4" />
<line x1="555.82" y1="2.50" x2="555.82" y2="9.30" stroke="#111" stroke-width="1.4" />
<line x1="561.98" y1="519.70" x2="561.98" y2="512.90" stroke="#111" stroke-width="1.4" />
<line x1="561.98" y1="2.50" x2="561.98" y2="9.30" stroke="#111" stroke-width="1.4" />
<line x1="566.76" y1="519.70" x2="566.76" y2="512.90" stroke="#111" stroke-width="1.4" />
<line x1="566.76" y1="2.50" x2="566.76" y2="9.30" stroke="#111" stroke-width="1.4" />
<line x1="570.66" y1="519.70" x2="570.66" y2="512.90" stroke="#111" stroke-width="1.4" />
<line x1="570.66" y1="2.50" x2="570.66" y2="9.30" stroke="#111" stroke-width="1.4" />
<line x1="573.96" y1="519.70" x2="573.96" y2="512.90" stroke="#111" stroke-width="1.4" />
<line x1="573.96" y1="2.50" x2="573.96" y2="9.30" stroke="#111" stroke-width="1.4" />
<line x1="576.82" y1="519.70" x2="576.82" y2="512.90" stroke="#111" stroke-width="1.4" />
<line x1="576.82" y1="2.50" x2="576.82" y2="9.30" stroke="#111" stroke-width="1.4" />
<line x1="579.34" y1="519.70" x2="579.34" y2="512.90" stroke="#111" stroke-width="1.4" />
<line x1="579.34" y1="2.50" x2="579.34" y2="9.30" stroke="#111" stroke-width="1.4" />
<line x1="581.60" y1="519.70" x2="581.60" y2="506.20" stroke="#111" stroke-width="1.4" />
<line x1="581.60" y1="2.50" x2="581.60" y2="16.00" stroke="#111" stroke-width="1.4" />
<path d="M482.98 2.50 L482.98 22.39 L512.67 22.39 L512.67 42.28 L506.51 42.28 L506.51 62.18 L497.82 62.18 L497.82 82.07 L524.65 82.07 L524.65 101.96 L512.67 101.96 L512.67 121.85 L497.82 121.85 L497.82 141.75 L478.20 141.75 L478.20 161.64 L478.20 161.64 L478.20 181.53 L478.20 181.53 L478.20 201.42 L478.20 201.42 L478.20 221.32 L506.51 221.32 L506.51 241.21 L497.82 241.21 L497.82 261.10 L527.51 261.10 L527.51 280.99 L539.50 280.99 L539.50 300.88 L544.88 300.88 L544.88 320.78 L551.91 320.78 L551.91 340.67 L548.18 340.67 L548.18 360.56 L543.65 360.56 L543.65 380.45 L534.33 380.45 L534.33 400.35 L521.35 400.35 L521.35 420.24 L512.67 420.24 L512.67 440.13 L506.51 440.13 L506.51 460.02 L512.67 460.02 L512.67 479.92 L497.82 479.92 L497.82 499.81 L482.98 499.81 L482.98 519.70" stroke="#111" stroke-width="1.4" fill="none"/>
<line x1="336.7" y1="320.8" x2="371.4" y2="320.8" stroke="#111" stroke-width="1.4"/>
<path d="M336.20 335.19L341.20 343.39L331.20 343.39Z" stroke="#2222aa" stroke-width="1.35" fill="none" stroke-linejoin="miter"/>
<path d="M336.30 359.70L342.30 365.70L336.30 371.70L330.30 365.70Z" stroke="#d236d8" stroke-width="1.5" fill="none"/>
<circle cx="336.20" cy="390.40" r="5.6" stroke="#3ad23a" stroke-width="1.3" fill="none"/>
<rect x="331.80" y="410.70" width="8.80" height="8.80" stroke="#dc2d3c" stroke-width="1.35" fill="none"/>
<text x="59.02" y="544.60" font-size="20" textLength="10.95" lengthAdjust="spacingAndGlyphs" font-family="Liberation Serif, serif" fill="#111" >0</text>
<text x="177.67" y="544.60" font-size="20" textLength="9.86" lengthAdjust="spacingAndGlyphs" font-family="Liberation Serif, serif" fill="#111" >1</text>
<text x="295.05" y="544.60" font-size="20" textLength="11.62" lengthAdjust="spacingAndGlyphs" font-family="Liberation Serif, serif" fill="#111" >2</text>
<text x="413.37" y="544.60" font-size="20" textLength="11.45" lengthAdjust="spacingAndGlyphs" font-family="Liberation Serif, serif" fill="#111" >3</text>
<text x="477.82" y="544.60" font-size="20" textLength="9.86" lengthAdjust="spacingAndGlyphs" font-family="Liberation Serif, serif" fill="#111" >1</text>
<text x="521.02" y="544.60" font-size="20" textLength="9.86" lengthAdjust="spacingAndGlyphs" font-family="Liberation Serif, serif" fill="#111" >1</text>
<text x="532.33" y="544.60" font-size="20" textLength="12.14" lengthAdjust="spacingAndGlyphs" font-family="Liberation Serif, serif" fill="#111" >0</text>
<text x="564.02" y="544.60" font-size="20" textLength="9.86" lengthAdjust="spacingAndGlyphs" font-family="Liberation Serif, serif" fill="#111" >1</text>
<text x="575.96" y="544.60" font-size="20" textLength="10.48" lengthAdjust="spacingAndGlyphs" font-family="Liberation Serif, serif" fill="#111" >0</text>
<text x="588.96" y="544.60" font-size="20" textLength="10.48" lengthAdjust="spacingAndGlyphs" font-family="Liberation Serif, serif" fill="#111" >0</text>
<text x="522.95" y="569.00" font-size="20" textLength="13.15" lengthAdjust="spacingAndGlyphs" font-family="Liberation Serif, serif" fill="#111" >N</text>
<text transform="translate(142.20,0) scale(1.2,1)" x="-0.59" y="571.20" font-size="19.8" letter-spacing="0.358" font-family="Liberation Serif, serif" fill="#111" >Redshift</text>
<text transform="translate(239.80,0) scale(1.2,1)" x="-0.89" y="571.20" font-size="19.8" letter-spacing="0.729" font-family="Liberation Serif, serif" fill="#111" >(Spectroscopic)</text>
<text x="22.02" y="30.19" font-size="20.2" textLength="9.86" lengthAdjust="spacingAndGlyphs" font-family="Liberation Serif, serif" fill="#111" >1</text>
<text x="34.13" y="30.19" font-size="20.2" textLength="9.64" lengthAdjust="spacingAndGlyphs" font-family="Liberation Serif, serif" fill="#111" >0</text>
<text x="46.05" y="23.79" font-size="12" textLength="6.34" lengthAdjust="spacingAndGlyphs" font-family="Liberation Serif, serif" fill="#111" >4</text>
<text x="22.02" y="229.12" font-size="20.2" textLength="9.86" lengthAdjust="spacingAndGlyphs" font-family="Liberation Serif, serif" fill="#111" >1</text>
<text x="34.13" y="229.12" font-size="20.2" textLength="9.64" lengthAdjust="spacingAndGlyphs" font-family="Liberation Serif, serif" fill="#111" >0</text>
<text x="45.66" y="222.72" font-size="12" textLength="7.11" lengthAdjust="spacingAndGlyphs" font-family="Liberation Serif, serif" fill="#111" >3</text>
<text x="22.02" y="428.04" font-size="20.2" textLength="9.86" lengthAdjust="spacingAndGlyphs" font-family="Liberation Serif, serif" fill="#111" >1</text>
<text x="34.13" y="428.04" font-size="20.2" textLength="9.64" lengthAdjust="spacingAndGlyphs" font-family="Liberation Serif, serif" fill="#111" >0</text>
<text x="45.64" y="421.64" font-size="12" textLength="7.38" lengthAdjust="spacingAndGlyphs" font-family="Liberation Serif, serif" fill="#111" >2</text>
<text x="347.12" y="307.60" font-size="20" textLength="38.76" lengthAdjust="spacingAndGlyphs" font-family="Liberation Serif, serif" fill="#111" >AGN</text>
<text x="366.79" y="348.00" font-size="20" textLength="37.30" lengthAdjust="spacingAndGlyphs" font-family="Liberation Serif, serif" fill="#111" >BPT</text>
<text x="367.10" y="372.70" font-size="24.7" textLength="6.21" lengthAdjust="spacingAndGlyphs" font-family="Liberation Serif, serif" fill="#111" >[</text>
<text x="375.52" y="371.60" font-size="20.2" textLength="12.30" lengthAdjust="spacingAndGlyphs" font-family="Liberation Serif, serif" fill="#111" >O</text>
<text x="388.98" y="371.50" font-size="20" textLength="5.91" lengthAdjust="spacingAndGlyphs" font-family="Liberation Serif, serif" fill="#111" >I</text>
<text x="395.58" y="371.50" font-size="20" textLength="5.91" lengthAdjust="spacingAndGlyphs" font-family="Liberation Serif, serif" fill="#111" >I</text>
<text x="402.68" y="371.50" font-size="20" textLength="5.91" lengthAdjust="spacingAndGlyphs" font-family="Liberation Serif, serif" fill="#111" >I</text>
<text x="410.87" y="372.70" font-size="24.7" textLength="5.03" lengthAdjust="spacingAndGlyphs" font-family="Liberation Serif, serif" fill="#111" >]</text>
<line x1="419.6" y1="375.0" x2="428.6" y2="356.6" stroke="#111" stroke-width="1.35"/>
<text x="431.94" y="371.50" font-size="19.5" textLength="13.57" lengthAdjust="spacingAndGlyphs" font-family="Liberation Serif, serif" fill="#111" >H</text>
<text x="447.31" y="371.50" font-size="20" textLength="10.16" lengthAdjust="spacingAndGlyphs" font-family="Liberation Serif, serif" fill="#111" font-style="italic">β</text>
<text x="367.47" y="397.60" font-size="24.7" textLength="5.90" lengthAdjust="spacingAndGlyphs" font-family="Liberation Serif, serif" fill="#111" >[</text>
<text x="375.85" y="396.30" font-size="20.5" textLength="13.15" lengthAdjust="spacingAndGlyphs" font-family="Liberation Serif, serif" fill="#111" >N</text>
<text x="389.46" y="396.30" font-size="20" textLength="10.44" lengthAdjust="spacingAndGlyphs" font-family="Liberation Serif, serif" fill="#111" >e</text>
<text x="400.23" y="396.30" font-size="20.5" textLength="12.07" lengthAdjust="spacingAndGlyphs" font-family="Liberation Serif, serif" fill="#111" >V</text>
<text x="414.75" y="397.60" font-size="24.7" textLength="6.22" lengthAdjust="spacingAndGlyphs" font-family="Liberation Serif, serif" fill="#111" >]</text>
<text x="366.91" y="422.70" font-size="20" textLength="25.23" lengthAdjust="spacingAndGlyphs" font-family="Liberation Serif, serif" fill="#111" >BL</text>
<g transform="translate(16.6,364.4) rotate(-90)"><text x="-0.15" y="0.00" font-size="20.3" textLength="57.33" lengthAdjust="spacingAndGlyphs" font-family="Liberation Serif, serif" fill="#111" >FWHM</text><text x="58.00" y="6.60" font-size="14.5" textLength="25.88" lengthAdjust="spacingAndGlyphs" font-family="Liberation Serif, serif" fill="#111" >max</text><text x="95.10" y="0.45" font-size="24.3" textLength="7.57" lengthAdjust="spacingAndGlyphs" font-family="Liberation Serif, serif" fill="#111" >[</text><text transform="translate(104.60,0) scale(1.28,1)" x="-0.39" y="0.00" font-size="19.5" letter-spacing="-0.527" font-family="Liberation Serif, serif" fill="#111" >km</text><text transform="translate(148.30,0) scale(1.28,1)" x="-0.78" y="0.00" font-size="19.5" letter-spacing="0.351" font-family="Liberation Serif, serif" fill="#111" >sec</text><text x="181.73" y="-6.40" font-size="12.8" textLength="14.26" lengthAdjust="spacingAndGlyphs" font-family="Liberation Serif, serif" fill="#111" >−1</text><text x="199.20" y="0.45" font-size="24.3" textLength="6.66" lengthAdjust="spacingAndGlyphs" font-family="Liberation Serif, serif" fill="#111" >]</text></g>
</svg>
</body></html>
